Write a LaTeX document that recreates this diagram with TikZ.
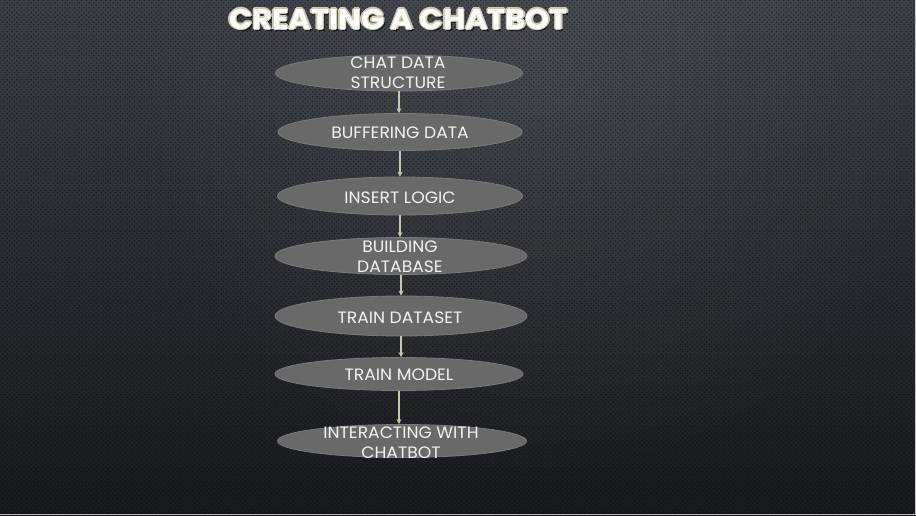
\documentclass[tikz,border=0pt]{standalone}
\usepackage{fontspec}
\setmainfont{Poppins}
\usetikzlibrary{shapes.geometric,arrows.meta,patterns.meta,fadings}
\definecolor{bgtop}{RGB}{60,63,69}
\definecolor{bgbot}{RGB}{25,26,29}
\definecolor{ellfill}{RGB}{105,105,105}
\definecolor{ellline}{RGB}{122,122,122}
\definecolor{arrowc}{RGB}{200,200,178}
\definecolor{titleedge}{RGB}{205,200,175}
\definecolor{txt}{RGB}{242,242,242}
\tikzfading[name=glowfade, inner color=transparent!0, outer color=transparent!100]
\newcommand{\wideT}[1]{\scalebox{1.07}[1]{#1}}
\newcommand{\wideS}[1]{\scalebox{1.04}[1]{#1}}
\begin{document}
\begin{tikzpicture}[x=1pt,y=-1pt,
  stepell/.style={ellipse, fill=ellfill, draw=ellline, line width=0.8pt, inner sep=0pt},
  steptext/.style={text=txt, font=\fontsize{16.5}{20}\selectfont, align=center, inner sep=0pt},
  flow/.style={draw=arrowc, line width=1.5pt, -{Stealth[length=5pt,width=5pt]}},
  titlefont/.style={font=\fontsize{28.5}{30}\selectfont\bfseries, inner sep=0pt}]
\useasboundingbox (0,0) rectangle (916,515);
% background
\begin{scope}
\clip (0,0) rectangle (916,515);
\fill[top color=bgtop, bottom color=bgbot] (0,0) rectangle (916,515);
\fill[white, opacity=0.07, path fading=glowfade] (540,80) circle (420);
\fill[pattern={Dots[distance=3.4pt, angle=45, radius=0.85pt]}, pattern color=black, opacity=0.45] (0,0) rectangle (916,515);
\fill[gray!55] (0,513.5) rectangle (916,515);
\fill[gray!45] (915,0) rectangle (916,515);
\end{scope}
% title
\node[titlefont, text=black, opacity=0.6] (tshadow) at (400.5,21.5) {\wideT{CREATING A CHATBOT}};
\foreach \dx/\dy [count=\i] in {1.3/0, -1.3/0, 0/1.3, 0/-1.3, 0.9/0.9, -0.9/0.9, 0.9/-0.9, -0.9/-0.9}
  \node[titlefont, text=titleedge] (tedge\i) at (398.5+\dx,19+\dy) {\wideT{CREATING A CHATBOT}};
\node[titlefont, text=white] (title) at (398.5,19) {\wideT{CREATING A CHATBOT}};
% ellipses
\node[stepell, minimum width=247pt, minimum height=36pt] (e1) at (399,73) {};
\node[stepell, minimum width=244pt, minimum height=37pt] (e2) at (400,132) {};
\node[stepell, minimum width=245pt, minimum height=38pt] (e3) at (400,196) {};
\node[stepell, minimum width=252pt, minimum height=37pt] (e4) at (401,256) {};
\node[stepell, minimum width=252pt, minimum height=40pt] (e5) at (401,316) {};
\node[stepell, minimum width=248pt, minimum height=33pt] (e6) at (399,374) {};
\node[stepell, minimum width=249pt, minimum height=33pt] (e7) at (402,441) {};
% texts
\node[steptext] (t1) at (398,73) {\wideS{CHAT DATA}\\\wideS{STRUCTURE}};
\node[steptext] (t2) at (400,133) {\wideS{BUFFERING DATA}};
\node[steptext] (t3) at (400,197.5) {\wideS{INSERT LOGIC}};
\node[steptext] (t4) at (400,257) {\wideS{BUILDING}\\\wideS{DATABASE}};
\node[steptext] (t5) at (400,317.5) {\wideS{TRAIN DATASET}};
\node[steptext] (t6) at (399,375) {\wideS{TRAIN MODEL}};
\node[steptext] (t7) at (401,443) {\wideS{INTERACTING WITH}\\\wideS{CHATBOT}};
% arrows
\draw[flow] (e1.south) -- (e1.south |- e2.north);
\draw[flow] (e2.south) -- (e2.south |- e3.north);
\draw[flow] (e3.south) -- (e3.south |- e4.north);
\draw[flow] (e4.south) -- (e4.south |- e5.north);
\draw[flow] (e5.south) -- (e5.south |- e6.north);
\draw[flow] (e6.south) -- (e6.south |- e7.north);
\end{tikzpicture}
\end{document}
